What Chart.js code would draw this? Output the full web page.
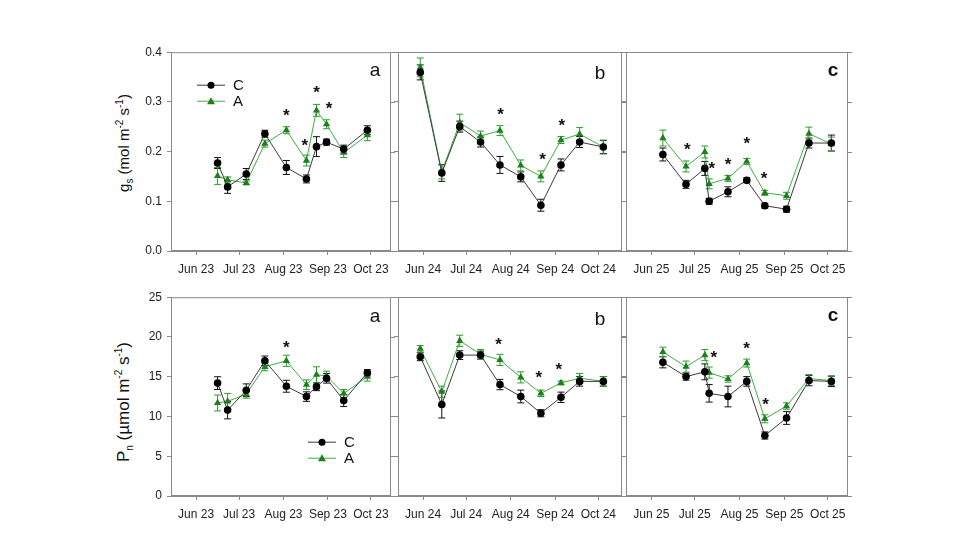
<!DOCTYPE html>
<html>
<head>
<meta charset="utf-8">
<script src="https://cdn.jsdelivr.net/npm/chart.js@4.4.1/dist/chart.umd.min.js"></script>
<style>
body { margin: 0; background: #fff; width: 980px; height: 560px; position: relative; overflow: hidden; font-family: "Liberation Sans", Arial, sans-serif; }
.panel { position: absolute; }
.ytitle { position: absolute; transform: translate(-50%, -50%) rotate(-90deg); white-space: nowrap; color: #111; }
.ytitle sub, .ytitle sup { font-size: 10px; }
</style>
</head>
<body>
<div class="ytitle" style="left:124px;top:143px;font-size:15px">g<sub>s</sub> (mol m<sup>-2</sup> s<sup>-1</sup>)</div>
<div class="ytitle" style="left:124px;top:402px;font-size:17px">P<sub>n</sub> (&micro;mol m<sup>-2</sup> s<sup>-1</sup>)</div>
<script>
// x values are days counted from 1 June of each year
var monthTicks = [0, 30, 61, 92, 122];
var monthNames = ['Jun', 'Jul', 'Aug', 'Sep', 'Oct'];
var gsTicks = [0, 0.1, 0.2, 0.3, 0.4];
var pnTicks = [0, 5, 10, 15, 20, 25];

var dates23 = [15, 22, 35, 48, 63, 77, 84, 91, 103, 119.5];
var dates24 = [-2, 13, 25.5, 40, 53.5, 68, 82, 96, 109, 125.5];
var dates25 = [8, 24, 37, 40, 53, 66, 78.5, 93.5, 109, 124.5];

// stomatal conductance gs
var gsC23 = [0.177, 0.129, 0.155, 0.236, 0.168, 0.145, 0.210, 0.219, 0.205, 0.243];
var gsC23err = [0.011, 0.013, 0.011, 0.007, 0.014, 0.008, 0.020, 0.006, 0.008, 0.009];
var gsA23 = [0.151, 0.143, 0.137, 0.216, 0.243, 0.182, 0.283, 0.255, 0.198, 0.233];
var gsA23err = [0.017, 0.006, 0.004, 0.007, 0.007, 0.011, 0.012, 0.009, 0.010, 0.011];

var gsC24 = [0.359, 0.157, 0.250, 0.219, 0.173, 0.149, 0.092, 0.173, 0.219, 0.209];
var gsC24err = [0.015, 0.017, 0.011, 0.010, 0.017, 0.010, 0.012, 0.012, 0.011, 0.013];
var gsA24 = [0.369, 0.159, 0.258, 0.231, 0.242, 0.172, 0.150, 0.223, 0.235, 0.209];
var gsA24err = [0.019, 0.014, 0.017, 0.010, 0.010, 0.011, 0.011, 0.007, 0.013, 0.014];

var gsC25 = [0.194, 0.134, 0.166, 0.100, 0.119, 0.142, 0.091, 0.084, 0.217, 0.217];
var gsC25err = [0.013, 0.008, 0.014, 0.006, 0.010, 0.005, 0.005, 0.006, 0.010, 0.016];
var gsA25 = [0.227, 0.170, 0.199, 0.135, 0.146, 0.180, 0.117, 0.111, 0.236, 0.215];
var gsA25err = [0.016, 0.011, 0.012, 0.010, 0.006, 0.006, 0.005, 0.007, 0.013, 0.014];

// net photosynthesis Pn
var pnC23 = [14.2, 10.8, 13.3, 17.0, 13.8, 12.5, 13.75, 14.8, 12.0, 15.5];
var pnC23err = [0.8, 1.1, 0.8, 0.6, 0.75, 0.6, 0.5, 0.6, 0.75, 0.4];
var pnA23 = [11.7, 11.9, 12.8, 16.25, 17.0, 14.0, 15.25, 15.1, 12.9, 15.0];
var pnA23err = [1.0, 1.0, 0.5, 0.5, 0.7, 0.6, 1.0, 0.6, 0.5, 0.55];

var pnC24 = [17.5, 11.5, 17.7, 17.7, 14.0, 12.5, 10.4, 12.4, 14.4, 14.4];
var pnC24err = [0.5, 1.7, 0.55, 0.5, 0.65, 0.8, 0.45, 0.65, 0.6, 0.6];
var pnA24 = [18.5, 13.1, 19.5, 17.8, 17.1, 14.9, 12.9, 14.2, 14.8, 14.4];
var pnA24err = [0.4, 0.7, 0.7, 0.6, 0.7, 0.7, 0.4, 0.25, 0.6, 0.6];

var pnC25 = [16.8, 15.0, 15.6, 12.9, 12.5, 14.4, 7.6, 9.8, 14.5, 14.4];
var pnC25err = [0.7, 0.45, 1.0, 1.1, 1.3, 0.6, 0.45, 0.8, 0.65, 0.65];
var pnA25 = [18.1, 16.25, 17.7, 15.5, 14.7, 16.7, 9.7, 11.3, 14.75, 14.5];
var pnA25err = [0.6, 0.7, 0.7, 0.7, 0.4, 0.5, 0.5, 0.4, 0.5, 0.6];

// significance asterisks (day, value)
var gsStar23x = [63, 75.8, 84, 92.7];
var gsStar23y = [0.281, 0.221, 0.327, 0.295];
var gsStar24x = [54, 83.1, 96.5];
var gsStar24y = [0.283, 0.192, 0.261];
var gsStar25x = [24.9, 41.8, 53.1, 66, 78];
var gsStar25y = [0.214, 0.174, 0.183, 0.225, 0.154];
var pnStar23x = [63];
var pnStar23y = [19.3];
var pnStar24x = [52.6, 80.6, 94.5];
var pnStar24y = [19.6, 15.4, 16.4];
var pnStar25x = [43.2, 65.8, 79];
var pnStar25y = [18.0, 19.1, 12.0];

var FONT = '"Liberation Sans", Arial, sans-serif';
var AXIS = '#8a8a8a';
var C_LINE = '#3a3a3a', C_PT = '#000000';
var A_LINE = '#3fae3f', A_PT = '#1d7f1d';

function pts(xs, ys) {
    var out = [];
    for (var i = 0; i < xs.length; i++) out.push({ x: xs[i], y: ys[i] });
    return out;
}

function decor(o) {
    return {
        id: 'decor',
        beforeDatasetsDraw: function (chart) {
            var ctx = chart.ctx, ys = chart.scales.y;
            chart.data.datasets.forEach(function (ds, i) {
                var meta = chart.getDatasetMeta(i);
                ctx.save();
                ctx.strokeStyle = ds.errColor;
                ctx.lineWidth = 1;
                ds.data.forEach(function (p, j) {
                    var x = meta.data[j].x;
                    var t = ys.getPixelForValue(p.y + ds.err[j]);
                    var b = ys.getPixelForValue(p.y - ds.err[j]);
                    ctx.beginPath();
                    ctx.moveTo(x, t); ctx.lineTo(x, b);
                    ctx.moveTo(x - 3.5, t); ctx.lineTo(x + 3.5, t);
                    ctx.moveTo(x - 3.5, b); ctx.lineTo(x + 3.5, b);
                    ctx.stroke();
                });
                ctx.restore();
            });
        },
        afterDraw: function (chart) {
            var ctx = chart.ctx, a = chart.chartArea;
            var xs = chart.scales.x, ys = chart.scales.y;
            ctx.save();
            // box and right ticks
            ctx.strokeStyle = AXIS;
            ctx.lineWidth = 1;
            ctx.strokeRect(a.left + 0.5, a.top + 0.5, a.right - a.left - 1, a.bottom - a.top - 1);
            ys.ticks.forEach(function (t) {
                var y = Math.round(ys.getPixelForValue(t.value)) + 0.5;
                ctx.beginPath(); ctx.moveTo(a.right, y); ctx.lineTo(a.right + 4, y); ctx.stroke();
            });
            // asterisks
            ctx.fillStyle = '#111';
            ctx.font = 'bold 17px ' + FONT;
            ctx.textAlign = 'center';
            ctx.textBaseline = 'alphabetic';
            for (var i = 0; i < o.starX.length; i++) {
                ctx.fillText('*', xs.getPixelForValue(o.starX[i]), ys.getPixelForValue(o.starY[i]) + 10);
            }
            // panel letter
            ctx.font = (o.bold ? 'bold ' : '') + '19px ' + FONT;
            ctx.fillText(o.letter, a.right - o.letterDx, a.top + o.letterDy);
            // legend
            if (o.legend) {
                var lx = a.left + o.legend[0], ly = a.top + o.legend[1];
                var rows = [['C', C_LINE, C_PT, 'circle'], ['A', A_LINE, A_PT, 'triangle']];
                rows.forEach(function (r, k) {
                    var y = ly + k * 16;
                    ctx.strokeStyle = r[1];
                    ctx.beginPath(); ctx.moveTo(lx, y); ctx.lineTo(lx + 28, y); ctx.stroke();
                    ctx.fillStyle = r[2];
                    ctx.beginPath();
                    if (r[3] === 'circle') {
                        ctx.arc(lx + 14, y, 3.5, 0, Math.PI * 2);
                    } else {
                        ctx.moveTo(lx + 14, y - 4); ctx.lineTo(lx + 18, y + 3); ctx.lineTo(lx + 10, y + 3); ctx.closePath();
                    }
                    ctx.fill();
                    ctx.fillStyle = '#111';
                    ctx.font = '15px ' + FONT;
                    ctx.textAlign = 'left';
                    ctx.textBaseline = 'middle';
                    ctx.fillText(r[0], lx + 36, y + 1);
                });
            }
            ctx.restore();
        }
    };
}

function makePanel(p) {
    var yw = p.showY ? 50 : 8, padTop = 12, padRight = 10, xh = 36;
    var w = yw + p.width + padRight, h = padTop + p.height + xh;
    var div = document.createElement('div');
    div.className = 'panel';
    div.style.left = (p.left - yw) + 'px';
    div.style.top = (p.top - padTop) + 'px';
    var cv = document.createElement('canvas');
    cv.width = w; cv.height = h;
    cv.style.width = w + 'px'; cv.style.height = h + 'px';
    div.appendChild(cv);
    document.body.appendChild(div);

    new Chart(cv.getContext('2d'), {
        type: 'line',
        data: {
            datasets: [{
                label: 'C',
                data: pts(p.dates, p.c),
                err: p.cErr,
                errColor: '#111',
                borderColor: C_LINE,
                borderWidth: 1,
                pointStyle: 'circle',
                pointRadius: 3.8,
                pointBackgroundColor: C_PT,
                pointBorderColor: C_PT,
                pointBorderWidth: 0
            }, {
                label: 'A',
                data: pts(p.dates, p.a),
                err: p.aErr,
                errColor: '#2f9a2f',
                borderColor: A_LINE,
                borderWidth: 1,
                pointStyle: 'triangle',
                pointRadius: 4.2,
                pointBackgroundColor: A_PT,
                pointBorderColor: A_PT,
                pointBorderWidth: 0
            }]
        },
        options: {
            responsive: false,
            animation: false,
            devicePixelRatio: 1,
            layout: { padding: { top: padTop, right: padRight, left: 0, bottom: 0 } },
            plugins: { legend: { display: false }, tooltip: { enabled: false } },
            elements: { line: { tension: 0 } },
            scales: {
                x: {
                    type: 'linear',
                    min: -17.5,
                    max: p.xMax,
                    afterBuildTicks: function (s) {
                        s.ticks = monthTicks.map(function (v) { return { value: v }; });
                    },
                    afterFit: function (s) { s.height = xh; },
                    grid: { drawOnChartArea: false, drawTicks: true, tickLength: 4, color: AXIS },
                    border: { display: true, color: AXIS },
                    ticks: {
                        autoSkip: false, maxRotation: 0, padding: 7, color: '#222',
                        font: { size: 12, family: FONT },
                        callback: function (v) { return monthNames[monthTicks.indexOf(v)] + ' ' + p.yr; }
                    }
                },
                y: {
                    min: 0,
                    max: p.yTicks[p.yTicks.length - 1],
                    afterBuildTicks: function (s) {
                        s.ticks = p.yTicks.map(function (v) { return { value: v }; });
                    },
                    afterFit: function (s) { s.width = yw; },
                    grid: { drawOnChartArea: false, drawTicks: true, tickLength: 4, color: AXIS },
                    border: { display: true, color: AXIS },
                    ticks: {
                        display: p.showY, padding: 5, color: '#222',
                        font: { size: 12, family: FONT },
                        callback: function (v) { return v.toFixed(p.dec); }
                    }
                }
            }
        },
        plugins: [decor(p)]
    });
}

var topRow = { top: 52, height: 199, yTicks: gsTicks, dec: 1 };
var botRow = { top: 297, height: 199, yTicks: pnTicks, dec: 0 };

makePanel(Object.assign({}, topRow, { left: 171, width: 220, xMax: 136, showY: true, yr: '23', dates: dates23,
    c: gsC23, cErr: gsC23err, a: gsA23, aErr: gsA23err, starX: gsStar23x, starY: gsStar23y,
    letter: 'a', letterDx: 16, letterDy: 24, legend: [26, 33] }));
makePanel(Object.assign({}, topRow, { left: 398, width: 224, xMax: 138.5, showY: false, yr: '24', dates: dates24,
    c: gsC24, cErr: gsC24err, a: gsA24, aErr: gsA24err, starX: gsStar24x, starY: gsStar24y,
    letter: 'b', letterDx: 22, letterDy: 27 }));
makePanel(Object.assign({}, topRow, { left: 626, width: 222, xMax: 136, showY: false, yr: '25', dates: dates25,
    c: gsC25, cErr: gsC25err, a: gsA25, aErr: gsA25err, starX: gsStar25x, starY: gsStar25y,
    letter: 'c', letterDx: 15, letterDy: 24, bold: true }));

makePanel(Object.assign({}, botRow, { left: 171, width: 220, xMax: 136, showY: true, yr: '23', dates: dates23,
    c: pnC23, cErr: pnC23err, a: pnA23, aErr: pnA23err, starX: pnStar23x, starY: pnStar23y,
    letter: 'a', letterDx: 16, letterDy: 25, legend: [137, 145] }));
makePanel(Object.assign({}, botRow, { left: 398, width: 224, xMax: 138.5, showY: false, yr: '24', dates: dates24,
    c: pnC24, cErr: pnC24err, a: pnA24, aErr: pnA24err, starX: pnStar24x, starY: pnStar24y,
    letter: 'b', letterDx: 22, letterDy: 28 }));
makePanel(Object.assign({}, botRow, { left: 626, width: 222, xMax: 136, showY: false, yr: '25', dates: dates25,
    c: pnC25, cErr: pnC25err, a: pnA25, aErr: pnA25err, starX: pnStar25x, starY: pnStar25y,
    letter: 'c', letterDx: 15, letterDy: 24, bold: true }));
</script>
</body>
</html>
